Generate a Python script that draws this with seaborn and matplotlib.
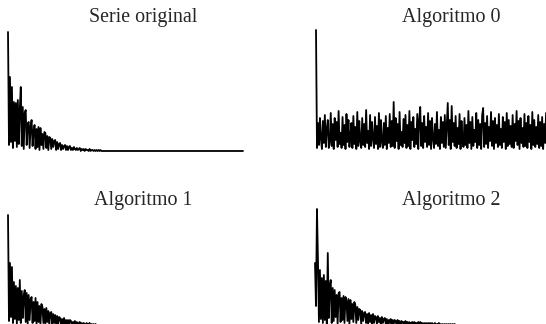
#!/usr/bin/env python3
"""Cuatro series: la original y las reconstrucciones de tres algoritmos (2x2, sin ejes)."""

import matplotlib

matplotlib.use("Agg")
import matplotlib.pyplot as plt
import numpy as np
import seaborn as sns

# Valores leidos a ojo (altura sobre la linea base, unidades arbitrarias)
serie_original = [
    119, 6, 74, 9, 64, 3, 49, 10, 48, 4,
    51, 7, 42, 64, 5, 44, 2, 38, 41, 6,
    27, 29, 3, 25, 31, 5, 20, 26, 2, 22,
    4, 24, 1, 23, 6, 17, 2, 19, 18, 3,
    15, 1, 14, 13, 2, 12, 4, 10, 11, 1,
    9, 2, 7, 8, 1, 6, 2, 5, 6, 1,
    5, 1, 4, 5, 1, 3, 1, 4, 2, 1,
    3, 1, 2, 3, 0, 2, 1, 2, 0, 2,
    1, 1, 0, 2, 0, 1, 1, 0, 1, 0,
    1, 0, 1, 0, 1, 0, 0, 0, 0, 0,
    0, 0, 0, 0, 0, 0, 0, 0, 0, 0,
    0, 0, 0, 0, 0, 0, 0, 0, 0, 0,
    0, 0, 0, 0, 0, 0, 0, 0, 0, 0,
    0, 0, 0, 0, 0, 0, 0, 0, 0, 0,
    0, 0, 0, 0, 0, 0, 0, 0, 0, 0,
    0, 0, 0, 0, 0, 0, 0, 0, 0, 0,
    0, 0, 0, 0, 0, 0, 0, 0, 0, 0,
    0, 0, 0, 0, 0, 0, 0, 0, 0, 0,
    0, 0, 0, 0, 0, 0, 0, 0, 0, 0,
    0, 0, 0, 0, 0, 0, 0, 0, 0, 0,
    0, 0, 0, 0, 0, 0, 0, 0, 0, 0,
    0, 0, 0, 0, 0, 0, 0, 0, 0, 0,
    0, 0, 0, 0, 0, 0, 0, 0, 0, 0,
    0, 0, 0, 0, 0, 0, 0, 0, 0, 0,
]

algoritmo_0 = [
    121, 3, 28, 6, 33, 12, 2, 30, 8, 36,
    4, 22, 31, 3, 9, 38, 5, 27, 2, 33,
    11, 29, 4, 40, 7, 18, 3, 34, 6, 26,
    2, 37, 9, 31, 4, 15, 28, 3, 35, 7,
    24, 2, 39, 5, 30, 10, 3, 33, 6, 27,
    4, 41, 8, 20, 2, 36, 5, 29, 12, 3,
    34, 7, 25, 2, 38, 4, 31, 9, 3, 28,
    6, 35, 2, 23, 8, 37, 4, 30, 5, 49,
    3, 33, 10, 27, 2, 39, 6, 19, 4, 32,
    8, 36, 3, 26, 5, 40, 2, 29, 11, 34,
    4, 22, 7, 37, 2, 31, 44, 5, 28, 3,
    35, 9, 24, 4, 38, 6, 30, 2, 33, 12,
    3, 27, 7, 39, 5, 21, 2, 34, 8, 29,
    4, 36, 3, 25, 48, 6, 31, 2, 45, 9,
    28, 5, 35, 3, 23, 7, 37, 2, 30, 10,
    4, 33, 6, 26, 3, 40, 8, 29, 2, 34,
    5, 21, 9, 38, 3, 31, 6, 27, 2, 36,
    43, 4, 28, 7, 35, 3, 24, 10, 39, 5,
    30, 2, 33, 8, 26, 4, 37, 6, 22, 3,
    34, 9, 29, 2, 38, 5, 31, 7, 25, 4,
    36, 3, 27, 10, 40, 6, 30, 2, 33, 8,
    23, 4, 37, 5, 28, 3, 35, 9, 26, 2,
    39, 6, 31, 4, 24, 7, 36, 3, 29, 5,
    34, 2, 27, 8, 38, 4, 30, 6, 33, 3,
]

algoritmo_1 = [
    111, 5, 63, 9, 59, 3, 44, 7, 40, 2,
    38, 6, 46, 3, 35, 8, 30, 36, 4, 33,
    2, 31, 6, 27, 29, 3, 24, 5, 28, 2,
    24, 4, 20, 1, 22, 19, 3, 17, 2, 18,
    4, 15, 1, 13, 14, 2, 12, 3, 11, 1,
    10, 2, 9, 8, 1, 7, 2, 8, 1, 6,
    2, 6, 1, 6, 5, 1, 4, 2, 5, 1,
    4, 1, 3, 4, 0, 3, 1, 3, 2, 0,
    3, 1, 2, 3, 0, 2, 1, 2, 0, 2,
    1, 0, 1, 1, 0, 1, 0, 1, 0, 0,
    0, 0, 0, 0, 0, 0, 0, 0, 0, 0,
    0, 0, 0, 0, 0, 0, 0, 0, 0, 0,
    0, 0, 0, 0, 0, 0, 0, 0, 0, 0,
    0, 0, 0, 0, 0, 0, 0, 0, 0, 0,
    0, 0, 0, 0, 0, 0, 0, 0, 0, 0,
    0, 0, 0, 0, 0, 0, 0, 0, 0, 0,
    0, 0, 0, 0, 0, 0, 0, 0, 0, 0,
    0, 0, 0, 0, 0, 0, 0, 0, 0, 0,
    0, 0, 0, 0, 0, 0, 0, 0, 0, 0,
    0, 0, 0, 0, 0, 0, 0, 0, 0, 0,
    0, 0, 0, 0, 0, 0, 0, 0, 0, 0,
    0, 0, 0, 0, 0, 0, 0, 0, 0, 0,
    0, 0, 0, 0, 0, 0, 0, 0, 0, 0,
    0, 0, 0, 0, 0, 0, 0, 0, 0, 0,
]

algoritmo_2 = [
    63, 20, 117, 66, 4, 56, 7, 48, 3, 51,
    6, 45, 2, 73, 8, 40, 46, 3, 38, 5,
    36, 9, 31, 2, 33, 34, 4, 28, 6, 30,
    3, 29, 25, 5, 27, 2, 26, 7, 22, 4,
    24, 21, 3, 19, 6, 17, 16, 2, 15, 5,
    13, 14, 3, 12, 2, 13, 4, 11, 1, 12,
    3, 10, 9, 2, 10, 4, 8, 1, 9, 3,
    7, 8, 2, 7, 1, 6, 3, 7, 1, 6,
    2, 6, 5, 1, 6, 2, 5, 1, 5, 3,
    4, 1, 5, 2, 4, 0, 4, 1, 3, 4,
    1, 4, 2, 3, 0, 4, 1, 4, 2, 3,
    0, 3, 1, 3, 0, 3, 2, 3, 0, 3,
    1, 2, 3, 0, 2, 1, 3, 0, 2, 1,
    2, 0, 2, 1, 2, 0, 2, 1, 2, 0,
    2, 1, 2, 0, 1, 1, 0, 1, 0, 1,
    0, 1, 0, 0, 1, 0, 0, 0, 0, 0,
    0, 0, 0, 0, 0, 0, 0, 0, 0, 0,
    0, 0, 0, 0, 0, 0, 0, 0, 0, 0,
    0, 0, 0, 0, 0, 0, 0, 0, 0, 0,
    0, 0, 0, 0, 0, 0, 0, 0, 0, 0,
    0, 0, 0, 0, 0, 0, 0, 0, 0, 0,
    0, 0, 0, 0, 0, 0, 0, 0, 0, 0,
    0, 0, 0, 0, 0, 0, 0, 0, 0, 0,
    0, 0, 0, 0, 0, 0, 0, 0, 0, 0,
]

titulos = ["Serie original", "Algoritmo 0", "Algoritmo 1", "Algoritmo 2"]
series = [serie_original, algoritmo_0, algoritmo_1, algoritmo_2]

W, H = 546, 324
# (izquierda, linea base, techo, ancho) en pixeles; la figura original estaba recortada
paneles = [(8, 151, 32, 235), (316, 151, 30, 235), (8, 326, 215, 235), (315, 326, 209, 235)]
# centro del titulo y linea base del texto, en pixeles
pos_titulos = [(143, 22), (451, 22), (143, 205), (451, 205)]

sns.set_style("white")
plt.rcParams["font.family"] = ["Liberation Serif", "DejaVu Serif"]

fig = plt.figure(figsize=(W / 100, H / 100), dpi=100)

for valores, (left, base, top, width) in zip(series, paneles):
    ax = fig.add_axes([left / W, (H - base) / H, width / W, (base - top) / H])
    y = np.array(valores, dtype=float)
    x = np.arange(len(y))
    sns.lineplot(x=x, y=y, ax=ax, color="black", linewidth=1.3, clip_on=False)
    ax.set_xlim(0, len(y) - 1)
    ax.set_ylim(0, y.max())
    ax.axis("off")

for titulo, (cx, cy) in zip(titulos, pos_titulos):
    fig.text(cx / W, (H - cy) / H, titulo, ha="center", va="baseline", fontsize=14.4)

fig.savefig("out.png", dpi=100)
